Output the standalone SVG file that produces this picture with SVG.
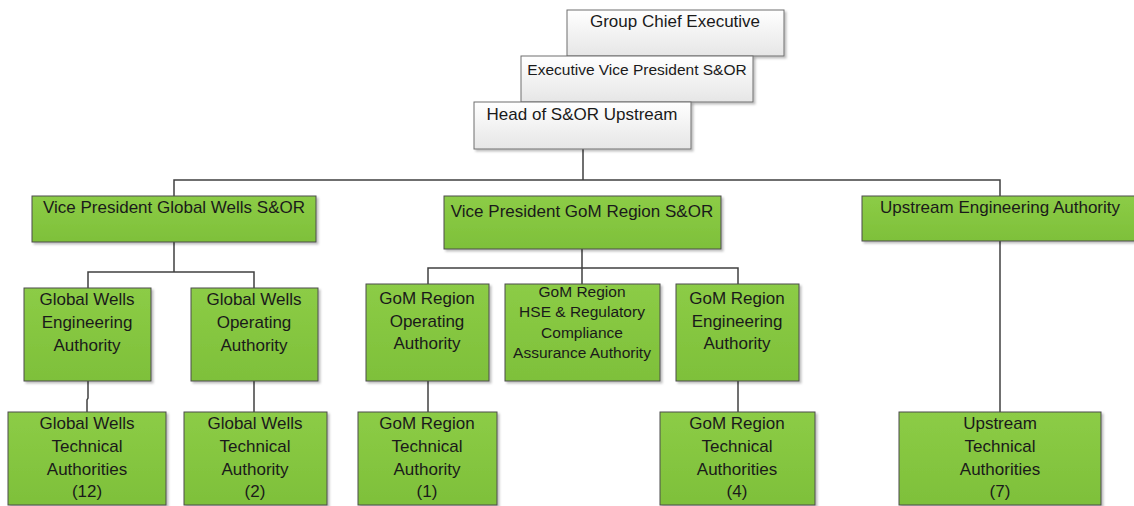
<svg xmlns="http://www.w3.org/2000/svg" width="1134" height="506" viewBox="0 0 1134 506">
<defs>
<linearGradient id="gray" x1="0" y1="0" x2="0" y2="1"><stop offset="0" stop-color="#ffffff"/><stop offset="1" stop-color="#e6e6e6"/></linearGradient>
<linearGradient id="green" x1="0" y1="0" x2="0" y2="1"><stop offset="0" stop-color="#8ccc46"/><stop offset="1" stop-color="#7ec03a"/></linearGradient>
<filter id="sh" x="-5%" y="-5%" width="115%" height="120%"><feDropShadow dx="2" dy="2" stdDeviation="1.2" flood-color="#000" flood-opacity="0.25"/></filter>
</defs>
<style>
.g rect{fill:url(#gray);stroke:#6e6e6e;stroke-width:1;filter:url(#sh)}
.n rect{fill:url(#green);stroke:#4d4d4d;stroke-width:1;filter:url(#sh)}
text{font-family:"Liberation Sans",Arial,sans-serif;font-size:17px;fill:#1a1a1a;text-anchor:middle}
.s{font-size:15.5px}
#connectors path{fill:none;stroke:#404040;stroke-width:1.5}
</style>
<g id="connectors">
<path d="M583 149V180M174 196V180H1000V196"/>
<path d="M174 242V272M88 288V272H254V288"/>
<path d="M582 249V268M428 284V268H738V284M582 268V284"/>
<path d="M88 381V398L87 400V412"/>
<path d="M254 381V412"/>
<path d="M428 381V412"/>
<path d="M738 381V412"/>
<path d="M1000 241V412"/>
</g>
<g id="gce" class="g"><rect x="567" y="10" width="217" height="46"/><text x="675" y="27">Group Chief Executive</text></g>
<g id="evp" class="g"><rect x="521" y="56" width="232" height="46"/><text x="637" y="75" class="s">Executive Vice President S&amp;OR</text></g>
<g id="head" class="g"><rect x="474" y="102" width="217" height="47"/><text x="582" y="120">Head of S&amp;OR Upstream</text></g>
<g id="vpgw" class="n"><rect x="32" y="196" width="284" height="46"/><text x="174" y="213">Vice President Global Wells S&amp;OR</text></g>
<g id="vpgom" class="n"><rect x="444" y="196" width="277" height="53"/><text x="582" y="217">Vice President GoM Region S&amp;OR</text></g>
<g id="uea" class="n"><rect x="862" y="196" width="280" height="45"/><text x="1000" y="213">Upstream Engineering Authority</text></g>
<g id="gwea" class="n"><rect x="24" y="288" width="127" height="93"/><text x="87" y="305">Global Wells</text><text x="87" y="328">Engineering</text><text x="87" y="351">Authority</text></g>
<g id="gwoa" class="n"><rect x="191" y="288" width="127" height="93"/><text x="254" y="305">Global Wells</text><text x="254" y="328">Operating</text><text x="254" y="351">Authority</text></g>
<g id="gomoa" class="n"><rect x="366" y="284" width="123" height="97"/><text x="427" y="304">GoM Region</text><text x="427" y="327">Operating</text><text x="427" y="349">Authority</text></g>
<g id="gomhse" class="n"><rect x="505" y="284" width="155" height="97"/><text x="582" y="297" class="s">GoM Region</text><text x="582" y="317" class="s">HSE &amp; Regulatory</text><text x="582" y="338" class="s">Compliance</text><text x="582" y="358" class="s">Assurance Authority</text></g>
<g id="gomea" class="n"><rect x="676" y="284" width="123" height="97"/><text x="737" y="304">GoM Region</text><text x="737" y="327">Engineering</text><text x="737" y="349">Authority</text></g>
<g id="gwta12" class="n"><rect x="8" y="412" width="158" height="93"/><text x="87" y="429">Global Wells</text><text x="87" y="452">Technical</text><text x="87" y="475">Authorities</text><text x="87" y="497">(12)</text></g>
<g id="gwta2" class="n"><rect x="184" y="412" width="143" height="93"/><text x="255" y="429">Global Wells</text><text x="255" y="452">Technical</text><text x="255" y="475">Authority</text><text x="255" y="497">(2)</text></g>
<g id="gomta1" class="n"><rect x="358" y="412" width="139" height="93"/><text x="427" y="429">GoM Region</text><text x="427" y="452">Technical</text><text x="427" y="475">Authority</text><text x="427" y="497">(1)</text></g>
<g id="gomta4" class="n"><rect x="660" y="412" width="155" height="93"/><text x="737" y="429">GoM Region</text><text x="737" y="452">Technical</text><text x="737" y="475">Authorities</text><text x="737" y="497">(4)</text></g>
<g id="uta7" class="n"><rect x="899" y="412" width="202" height="93"/><text x="1000" y="429">Upstream</text><text x="1000" y="452">Technical</text><text x="1000" y="475">Authorities</text><text x="1000" y="497">(7)</text></g>
</svg>
